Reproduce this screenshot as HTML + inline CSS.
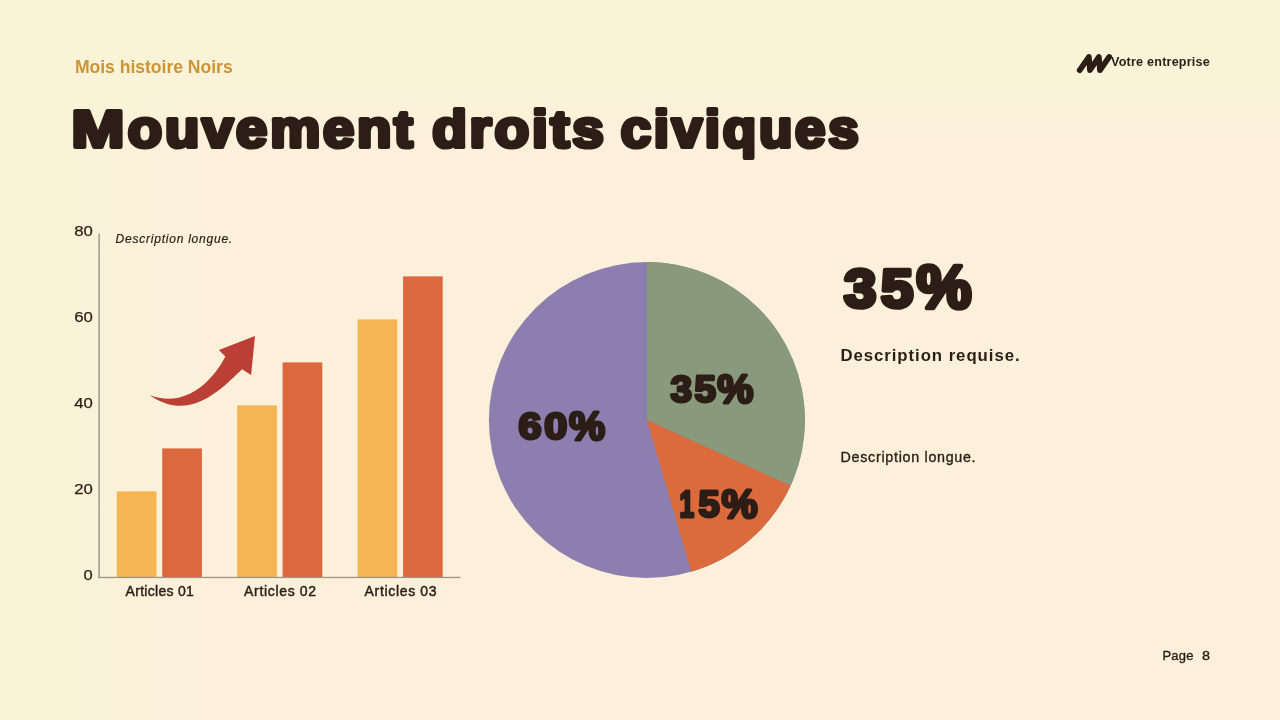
<!DOCTYPE html>
<html lang="fr">
<head>
<meta charset="utf-8">
<title>Mouvement droits civiques</title>
<style>
  html,body{margin:0;padding:0;}
  body{width:1280px;height:720px;overflow:hidden;background:#FCF0DB;font-family:"Liberation Sans",sans-serif;}
  #slide{position:relative;width:1280px;height:720px;overflow:hidden;
    background:
      linear-gradient(to right,#F9F3D7 0,#F9F3D7 40px,rgba(249,243,215,0) 230px),
      linear-gradient(to bottom,#F9F3D7 0,#F9F3D7 70px,rgba(249,243,215,0) 150px),
      #FCF0DB;}
  svg{position:absolute;left:0;top:0;display:block;}
  text{font-family:"Liberation Sans",sans-serif;fill:#2C1D16;}
  .reg{stroke:#2C1D16;stroke-width:0.35;}
  .disp{font-weight:bold;stroke:#2C1D16;stroke-linejoin:round;stroke-linecap:round;paint-order:stroke fill;}
</style>
</head>
<body>
<div id="slide">
<svg width="1280" height="720" viewBox="0 0 1280 720">

  <!-- header -->
  <text x="74.9" y="72.8" font-size="17.6" font-weight="bold" style="fill:#CE9438" textLength="157.8" lengthAdjust="spacing">Mois histoire Noirs</text>

  <!-- brand logo -->
  <g fill="none" stroke="#2C1D16" stroke-width="5.6" stroke-linecap="round" stroke-linejoin="round">
    <path d="M1079.6 70.3 L1088.9 56.9 L1089.9 70.3 L1098.9 56.9 L1099.9 70.3 L1109.2 56.9"/>
  </g>
  <text x="1111" y="65.6" font-size="12.6" font-weight="bold" textLength="98.8" lengthAdjust="spacing">Votre entreprise</text>

  <!-- title -->
  <text class="disp" y="147.3" font-size="52.6" stroke-width="4.2" letter-spacing="2.6"><tspan x="71.6" textLength="56" lengthAdjust="spacingAndGlyphs">M</tspan><tspan x="127.8" textLength="287.8" lengthAdjust="spacingAndGlyphs">ouvement</tspan> <tspan x="432.2" textLength="174.3" lengthAdjust="spacingAndGlyphs">droits</tspan> <tspan x="620.7" textLength="240.6" lengthAdjust="spacingAndGlyphs">civiques</tspan></text>

  <!-- bar chart -->
  <g id="bars">
    <rect x="116.8" y="491.4" width="39.7" height="86.0" fill="#F4B552"/>
    <rect x="162.2" y="448.4" width="39.7" height="129.0" fill="#DC683D"/>
    <rect x="237.2" y="405.4" width="39.7" height="172.0" fill="#F4B552"/>
    <rect x="282.6" y="362.4" width="39.7" height="215.0" fill="#DC683D"/>
    <rect x="357.6" y="319.4" width="39.7" height="258.0" fill="#F4B552"/>
    <rect x="403.0" y="276.4" width="39.7" height="301.0" fill="#DC683D"/>
    <rect x="98.4" y="233.5" width="1.4" height="344.6" fill="#A09480"/>
    <rect x="98.4" y="576.8" width="362.1" height="1.3" fill="#A09480"/>
  </g>
  <g font-size="14" class="reg" style="stroke-width:0.25">
    <text x="74.2" y="235.9" textLength="18.6" lengthAdjust="spacingAndGlyphs">80</text>
    <text x="74.2" y="321.9" textLength="18.6" lengthAdjust="spacingAndGlyphs">60</text>
    <text x="74.2" y="407.9" textLength="18.6" lengthAdjust="spacingAndGlyphs">40</text>
    <text x="74.2" y="493.9" textLength="18.6" lengthAdjust="spacingAndGlyphs">20</text>
    <text x="83.4" y="579.9" textLength="9.2" lengthAdjust="spacingAndGlyphs">0</text>
  </g>
  <g font-size="14" style="stroke:#2C1D16;stroke-width:0.45">
    <text x="125.6" y="595.8" textLength="68.2" lengthAdjust="spacing">Articles 01</text>
    <text x="244.1" y="595.8" textLength="72" lengthAdjust="spacing">Articles 02</text>
    <text x="364.6" y="595.8" textLength="72" lengthAdjust="spacing">Articles 03</text>
  </g>
  <text class="reg" style="stroke-width:0.2" x="115.6" y="242.9" font-size="12" font-style="italic" textLength="116.6" lengthAdjust="spacing">Description longue.</text>

  <!-- arrow -->
  <path d="M149.6 395 C183.1 408.2 211.2 383.8 225.4 356.4 L218.9 349.9 L255 336 L251.1 374.9 L242.1 369.3 C224.2 385.9 190.8 424.5 149.6 395 Z" fill="#BC3F35"/>

  <!-- pie -->
  <g id="pie">
    <circle cx="646.9" cy="420.1" r="158" fill="#8C7EAE"/>
    <path d="M646.9 420.1 L646.9 262.1 A158 158 0 0 1 790.6 485.7 Z" fill="#88997C"/>
    <path d="M646.9 420.1 L790.6 485.7 A158 158 0 0 1 691.4 571.7 Z" fill="#DB6A3C"/>
  </g>
  <text class="disp" y="402.2" font-size="37" stroke-width="3"><tspan x="670.5" letter-spacing="2.5" textLength="48.2" lengthAdjust="spacingAndGlyphs">35</tspan><tspan x="717.2" dy="1" font-size="40" textLength="36.1" lengthAdjust="spacingAndGlyphs">%</tspan></text>
  <text class="disp" y="438.8" font-size="37" stroke-width="3"><tspan x="518.4" letter-spacing="2.5" textLength="51.6" lengthAdjust="spacingAndGlyphs">60</tspan><tspan x="568.9" dy="1" font-size="40" textLength="36.1" lengthAdjust="spacingAndGlyphs">%</tspan></text>
  <text class="disp" y="517.2" font-size="37" stroke-width="3"><tspan x="679.6" textLength="14.6" lengthAdjust="spacingAndGlyphs">1</tspan><tspan x="698.6" textLength="21.2" lengthAdjust="spacingAndGlyphs">5</tspan><tspan x="721.5" dy="1" font-size="40" textLength="36.1" lengthAdjust="spacingAndGlyphs">%</tspan></text>

  <!-- stat -->
  <text class="disp" y="307.2" font-size="54.5" stroke-width="4.6"><tspan x="844" letter-spacing="4.5" textLength="74" lengthAdjust="spacingAndGlyphs">35</tspan><tspan x="916.4" dy="1.2" font-size="62" textLength="55" lengthAdjust="spacingAndGlyphs">%</tspan></text>
  <text x="840.4" y="360.8" font-size="16.8" font-weight="bold" textLength="179.2" lengthAdjust="spacing">Description requise.</text>
  <text class="reg" x="840.6" y="462" font-size="14.3" textLength="135" lengthAdjust="spacing">Description longue.</text>

  <!-- footer -->
  <text class="reg" x="1162.4" y="660.4" font-size="13" textLength="31" lengthAdjust="spacing">Page</text>
  <text class="reg" x="1201.9" y="660.4" font-size="13" textLength="8" lengthAdjust="spacingAndGlyphs">8</text>
</svg>
</div>
</body>
</html>
